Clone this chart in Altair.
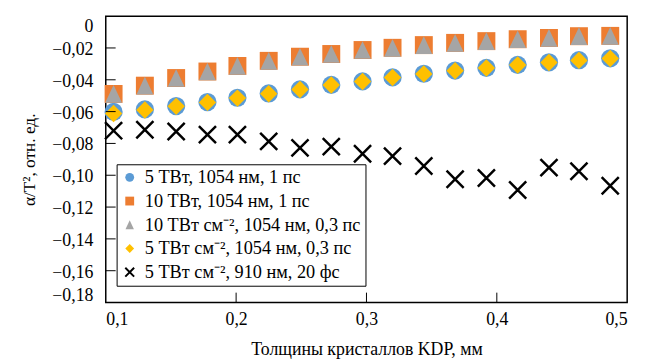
import altair as alt
import pandas as pd

# Thickness of KDP crystals, mm
thickness = [0.106, 0.130, 0.154, 0.178, 0.201, 0.225, 0.249, 0.273, 0.297,
             0.320, 0.344, 0.368, 0.392, 0.416, 0.440, 0.463, 0.487]

series_names = [
    "5 ТВт, 1054 нм, 1 пс",
    "10 ТВт, 1054 нм, 1 пс",
    "10 ТВт см⁻², 1054 нм, 0,3 пс",
    "5 ТВт см⁻², 1054 нм, 0,3 пс",
    "5 ТВт см⁻², 910 нм, 20 фс",
]

s_5tw_1ps = [-0.0602, -0.0586, -0.0565, -0.0540, -0.0513, -0.0486, -0.0460, -0.0432,
             -0.0410, -0.0385, -0.0362, -0.0342, -0.0325, -0.0306, -0.0290, -0.0277, -0.0265]
s_10tw_1ps = [-0.0489, -0.0437, -0.0389, -0.0348, -0.0313, -0.0281, -0.0255, -0.0238,
              -0.0213, -0.0199, -0.0182, -0.0168, -0.0157, -0.0145, -0.0137, -0.0126, -0.0124]
s_10tw_03ps = [-0.0489, -0.0437, -0.0389, -0.0348, -0.0313, -0.0281, -0.0255, -0.0238,
               -0.0213, -0.0199, -0.0182, -0.0168, -0.0157, -0.0145, -0.0137, -0.0126, -0.0124]
s_5tw_03ps = [-0.0612, -0.0590, -0.0567, -0.0542, -0.0515, -0.0488, -0.0461, -0.0433,
              -0.0411, -0.0386, -0.0363, -0.0343, -0.0326, -0.0307, -0.0291, -0.0278, -0.0266]
s_5tw_20fs = [-0.0720, -0.0714, -0.0725, -0.0745, -0.0745, -0.0787, -0.0828, -0.0820,
              -0.0865, -0.0880, -0.0942, -0.1025, -0.1017, -0.1093, -0.0952, -0.0975, -0.1066]

y_tick_values = [0, -0.02, -0.04, -0.06, -0.08, -0.10, -0.12, -0.14, -0.16, -0.18]
x_tick_values = [0.1, 0.2, 0.3, 0.4, 0.5]
inner_y_ticks = [-0.02, -0.04, -0.06, -0.08, -0.10, -0.12, -0.14, -0.16]
inner_x_ticks = [0.2, 0.3, 0.4]

colors = ["#5B9BD5", "#ED7D31", "#A5A5A5", "#FFC000", "#000000"]
strokes = ["transparent", "transparent", "transparent", "transparent", "#000000"]
shapes = ["circle", "square", "M0,-1L0.95,1L-0.95,1Z", "diamond", "M-1,-1L1,1M-1,1L1,-1"]
sizes = [340, 300, 300, 290, 180]

all_series = [s_5tw_1ps, s_10tw_1ps, s_10tw_03ps, s_5tw_03ps, s_5tw_20fs]
rows = []
for i, (name, vals) in enumerate(zip(series_names, all_series)):
    for x, y in zip(thickness, vals):
        rows.append({"x": x, "y": y, "series": name, "szkey": "k" + str(i), "idx": i})
df = pd.DataFrame(rows)

FONT = "Liberation Serif"
W, H = 528, 290

xscale = alt.Scale(domain=[0.1, 0.5], nice=False, zero=False)
yscale = alt.Scale(domain=[-0.18, 0], nice=False, zero=False)

y_label_expr = ("datum.value == 0 ? '0' : replace(replace(format(datum.value, '.2f'), '-', '−'), '.', ',')")
x_label_expr = "replace(format(datum.value, '.1f'), '.', ',')"

x_axis = alt.Axis(values=x_tick_values, labelExpr=x_label_expr, title="Толщины кристаллов KDP, мм",
                  ticks=False, tickSize=0, domain=False, grid=False, labelFlush=True,
                  labelOverlap=False, labelPadding=8, labelFontSize=18, labelFont=FONT,
                  labelColor="#000", titleFont=FONT, titleFontSize=18, titleFontWeight="normal",
                  titleColor="#000", titleBaseline="middle", titleY=48)
y_axis = alt.Axis(values=y_tick_values, labelExpr=y_label_expr, title="α/T², отн. ед.",
                  ticks=False, tickSize=0, domain=False, grid=False, labelFlush=True,
                  labelOverlap=False, labelPadding=13, labelOffset=1.5, labelFontSize=18,
                  labelFont=FONT, labelColor="#000", titleFont=FONT, titleFontSize=17.5,
                  titleFontWeight="normal", titleColor="#000", titleAngle=270,
                  titleBaseline="middle", titleX=-77, titleY=145)

points = alt.Chart(df).mark_point(filled=True, strokeWidth=2.5, opacity=1).encode(
    x=alt.X("x:Q", scale=xscale, axis=x_axis),
    y=alt.Y("y:Q", scale=yscale, axis=y_axis),
    color=alt.Color("series:N", scale=alt.Scale(domain=series_names, range=colors),
                    legend=alt.Legend(title=None, orient="none", legendX=11, legendY=150,
                                      fillColor="white", strokeColor="#000", padding=4,
                                      labelFont=FONT, labelFontSize=18.5, labelColor="#000",
                                      symbolSize=80, rowPadding=5, labelOffset=6,
                                      symbolStrokeWidth=2, labelLimit=400)),
    stroke=alt.Stroke("series:N", scale=alt.Scale(domain=series_names, range=strokes)),
    shape=alt.Shape("series:N", scale=alt.Scale(domain=series_names, range=shapes)),
    size=alt.Size("szkey:N", scale=alt.Scale(domain=["k0", "k1", "k2", "k3", "k4"], range=sizes),
                  legend=None),
    order=alt.Order("idx:Q"),
)

ytick_df = pd.DataFrame({"y": inner_y_ticks})
xtick_df = pd.DataFrame({"x": inner_x_ticks})

yticks = alt.Chart(ytick_df).mark_rule(color="#000", strokeWidth=1).encode(
    y=alt.Y("y:Q", scale=yscale, axis=y_axis),
    x=alt.value(0), x2=alt.value(10),
)
xticks = alt.Chart(xtick_df).mark_rule(color="#000", strokeWidth=1).encode(
    x=alt.X("x:Q", scale=xscale, axis=x_axis),
    y=alt.value(H), y2=alt.value(H - 10),
)

chart = alt.layer(points, yticks, xticks).properties(
    width=W, height=H,
    autosize=alt.AutoSizeParams(type="none"),
    padding={"left": 99, "top": 6, "right": 14, "bottom": 60},
).configure(
    background="white", font=FONT,
    style={"guide-label": {"font": FONT}, "guide-title": {"font": FONT}},
).configure_view(
    stroke="#000", strokeWidth=1.5
).configure_axis(labelFont=FONT, titleFont=FONT).configure_legend(labelFont=FONT)

chart.save("out.html", embed_options={"renderer": "svg", "actions": False})
